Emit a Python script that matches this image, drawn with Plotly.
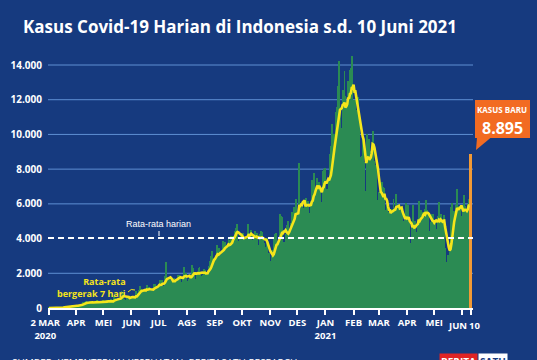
import pandas as pd
import plotly.graph_objects as go

# ---------------- DATA ----------------
START_DATE = "2020-03-02"

CASES_2020_03 = [2, 0, 0, 0, 2, 0, 2, 13, 8, 7, 0, 35, 27, 21, 17, 38, 55, 82, 60, 81,
                 64, 65, 107, 104, 103, 153, 109, 130, 129, 114]
CASES_2020_04 = [149, 113, 196, 106, 181, 218, 247, 218, 337, 219, 330, 399, 316, 282, 297,
                 380, 407, 325, 327, 185, 375, 283, 357, 436, 396, 275, 214, 415, 260, 347]
CASES_2020_05 = [433, 292, 349, 395, 484, 367, 338, 336, 533, 387, 233, 484, 689, 568, 490,
                 529, 489, 496, 486, 693, 973, 634, 949, 526, 479, 415, 686, 687, 678, 557, 700]
CASES_2020_06 = [467, 609, 684, 585, 703, 993, 672, 847, 1043, 1241, 979, 1111, 1014, 857, 1017,
                 1106, 1031, 1331, 1041, 1226, 862, 954, 1051, 1113, 1178, 1385, 1385, 1198, 1082, 1293]
CASES_2020_07 = [1385, 1624, 1301, 1447, 1607, 1209, 1268, 1853, 2657, 1611, 1671, 1681, 1282, 1591,
                 1522, 1574, 1462, 1752, 1639, 1693, 1655, 1882, 1906, 1761, 1868, 1492, 1525, 1748,
                 2381, 1904, 2040]
CASES_2020_08 = [1560, 1519, 1679, 1922, 1815, 1882, 2473, 2277, 1893, 1687, 1693, 1942, 2098, 2307,
                 2345, 2081, 1821, 1673, 1902, 2266, 2197, 2037, 2079, 1877, 2447, 2306, 2719, 3003,
                 3308, 2858, 2743]
CASES_2020_09 = [2775, 3075, 3622, 3269, 3128, 3444, 2880, 3046, 3307, 3861, 3737, 3806, 3636, 3141,
                 3507, 3963, 3635, 3891, 4168, 3989, 4176, 4071, 4465, 4634, 4823, 4494, 3874, 3509,
                 4002, 4284]
CASES_2020_10 = [4174, 4317, 4007, 3992, 3622, 4056, 4538, 4850, 4094, 4294, 4497, 3267, 3906, 4127,
                 4411, 4301, 4301, 4105, 3373, 3602, 4267, 4432, 4369, 4070, 3732, 3222, 3520, 4029,
                 3565, 2897, 3143]
CASES_2020_11 = [2696, 2618, 2973, 3356, 4065, 4262, 4301, 3880, 2853, 3779, 3770, 5444, 5272, 5222,
                 3807, 3535, 3807, 4265, 4798, 4792, 4998, 4360, 4442, 4892, 5534, 5417, 5828, 5418,
                 6267, 4617]
CASES_2020_12 = [5092, 5533, 8369, 5803, 6027, 6089, 5754, 5292, 6058, 6033, 6310, 5938, 6189, 5489,
                 5489, 6120, 7354, 6725, 7751, 6848, 6848, 6347, 7514, 6664, 7259, 6982, 6093, 5854,
                 7903, 8002, 8074]
CASES_2021_01 = [8072, 6234, 6877, 6753, 7445, 8854, 9321, 10617, 10046, 9640, 8692, 10047, 11278,
                 11557, 12818, 14224, 11287, 9086, 10365, 12568, 11703, 13632, 12191, 11788, 9994,
                 13094, 11948, 13695, 13802, 14518, 12001]
CASES_2021_02 = [10994, 10347, 11984, 11434, 10614, 12156, 10827, 8242, 8700, 8776, 9869, 9463, 8435,
                 6765, 6462, 10029, 9687, 9750, 9039, 8956, 8497, 10180, 9775, 8493, 7533, 8232,
                 6208, 5560]
CASES_2021_03 = [6680, 5712, 6808, 7264, 6971, 5767, 6894, 4714, 5633, 5926, 5144, 5554, 5607, 5714,
                 5396, 5589, 6279, 5396, 5720, 6585, 5854, 5402, 5981, 5227, 5731, 5701, 4952, 5008,
                 4207, 5063, 6060]
CASES_2021_04 = [5096, 5937, 4904, 3731, 3732, 4582, 4549, 5928, 4973, 5041, 4396, 3954, 5106, 6177,
                 5480, 5656, 5510, 4811, 4952, 5549, 5720, 6243, 5656, 5436, 4420, 4123, 4952, 5241,
                 5444, 5444]
CASES_2021_05 = [4809, 5048, 4369, 4538, 5285, 6093, 4958, 5404, 4616, 3922, 4891, 5385, 3448, 2633,
                 2385, 3080, 2662, 3680, 5797, 5746, 6043, 5296, 5591, 4488, 5952, 6868, 5853, 5862,
                 5696, 5860, 5280]
CASES_2021_06 = [4824, 5642, 6486, 5862, 5594, 5434, 5993, 6294, 5725, 8895]

Y_TICKS = [0, 2000, 4000, 6000, 8000, 10000, 12000, 14000]
Y_TICK_LABELS = ["0", "2.000", "4.000", "6.000", "8.000", "10.000", "12.000", "14.000"]

NB = "\u00a0"
X_TICKS = ["2020-03-02", "2020-04-01", "2020-05-01", "2020-06-01", "2020-07-01", "2020-08-01",
           "2020-09-01", "2020-10-01", "2020-11-01", "2020-12-01", "2021-01-01", "2021-02-01",
           "2021-03-01", "2021-04-01", "2021-05-01", "2021-06-01", "2021-06-10"]
X_TICK_LABELS = ["2 MAR" + NB * 3 + "<br>2020" + NB * 3, "APR", "MEI", "JUN", "JUL", "AGS", "SEP",
                 "OKT", "NOV", "DES", "JAN<br>2021", "FEB", "MAR", "APR", "MEI", "JUN", "10"]
# the last two labels sit very close together; they are drawn as nudged annotations
NUDGED_LABELS = {"2021-06-01": -5, "2021-06-10": 4}

TITLE = "Kasus Covid-19 Harian di Indonesia s.d. 10 Juni 2021"
AVG_LABEL = "Rata-rata harian"
MA_LABEL = "Rata-rata<br>bergerak 7 hari"
CALLOUT_LABEL = "KASUS BARU"
CALLOUT_VALUE = "8.895"
SOURCE = "SUMBER: KEMENTERIAN KESEHATAN, BERITASATU RESEARCH"

# ---------------- DERIVED ----------------
daily = (CASES_2020_03 + CASES_2020_04 + CASES_2020_05 + CASES_2020_06 + CASES_2020_07 +
         CASES_2020_08 + CASES_2020_09 + CASES_2020_10 + CASES_2020_11 + CASES_2020_12 +
         CASES_2021_01 + CASES_2021_02 + CASES_2021_03 + CASES_2021_04 + CASES_2021_05 +
         CASES_2021_06)
dates = pd.date_range(START_DATE, periods=len(daily), freq="D")
ma7 = pd.Series(daily).rolling(7, min_periods=1).mean()
avg_daily = sum(daily) / len(daily)

# ---------------- STYLE ----------------
W, H = 537, 360
L, R, T, B = 48, 473, 50, 308
BG = "#163a7f"
GREEN = "#2b8b53"
YELLOW = "#f5e51b"
ORANGE_BAR = "#f29a35"
ORANGE_BOX = "#f26b22"
GRID = "#5f8fd3"
WHITE = "#ffffff"
FONT = "Open Sans"
TICK_FONT = dict(family=FONT, size=9.5, color=WHITE, weight="bold")


def px(xp):
    return (xp - L) / (R - L)


def py(yp):
    return (B - yp) / (B - T)


fig = go.Figure()

fig.add_trace(go.Bar(x=dates[:-1], y=daily[:-1], marker=dict(color=GREEN, line=dict(width=0))))
fig.add_trace(go.Bar(x=dates[-1:], y=daily[-1:], width=[86400000 * 3],
                     marker=dict(color=ORANGE_BAR, line=dict(width=0))))
fig.add_trace(go.Scatter(x=dates[:-1], y=ma7[:-1], mode="lines",
                         line=dict(color=YELLOW, width=2.6)))

shapes = []
for v in Y_TICKS:
    if v == 0 or abs(v - avg_daily) < 500:
        continue
    shapes.append(dict(type="line", xref="paper", yref="y", x0=0, x1=1, y0=v, y1=v,
                       line=dict(color=GRID, width=1), layer="below"))
shapes.append(dict(type="line", xref="paper", yref="y", x0=0, x1=1, y0=avg_daily, y1=avg_daily,
                   line=dict(color=WHITE, width=2, dash="6px,4px"), layer="above"))
shapes.append(dict(type="line", xref="paper", yref="paper", x0=px(159), x1=px(159),
                   y0=py(231), y1=py(236), line=dict(color=WHITE, width=1)))
shapes.append(dict(type="path", xref="paper", yref="paper",
                   path=f"M{px(128)},{py(292)} Q{px(131)},{py(288)} {px(135)},{py(290)}",
                   line=dict(color=YELLOW, width=1)))
# callout box and pointer
shapes.append(dict(type="rect", xref="paper", yref="paper", x0=px(475), x1=px(530),
                   y0=py(138), y1=py(100), fillcolor=ORANGE_BOX, line=dict(width=0), layer="above"))
shapes.append(dict(type="path", xref="paper", yref="paper",
                   path=f"M{px(477)},{py(137.5)} L{px(491)},{py(137.5)} L{px(476)},{py(150)} Z",
                   fillcolor=ORANGE_BOX, line=dict(width=0), layer="above"))

tick_text = [("" if v in NUDGED_LABELS else t) for v, t in zip(X_TICKS, X_TICK_LABELS)]

annotations = [
    dict(xref="paper", yref="paper", x=px(158), y=py(224), text=AVG_LABEL, showarrow=False,
         font=dict(family="Liberation Sans", size=9, color=WHITE), xanchor="center", yanchor="middle"),
    dict(xref="paper", yref="paper", x=px(127), y=py(287), text=MA_LABEL, showarrow=False,
         align="right", font=dict(family=FONT, size=9, color=YELLOW, weight="bold"),
         xanchor="right", yanchor="middle", borderpad=0),
    dict(xref="paper", yref="paper", x=px(502.5), y=py(115.5), showarrow=False, text=CALLOUT_LABEL,
         font=dict(family=FONT, size=8, color=WHITE, weight="bold"),
         xanchor="center", yanchor="bottom", borderpad=0),
    dict(xref="paper", yref="paper", x=px(502.5), y=py(115.5), showarrow=False, text=CALLOUT_VALUE,
         font=dict(family=FONT, size=16, color=WHITE, weight="bold"),
         xanchor="center", yanchor="top", borderpad=0),
    dict(xref="paper", yref="paper", x=px(10), y=py(354), text=SOURCE, showarrow=False,
         font=dict(family=FONT, size=10, color=WHITE), xanchor="left", yanchor="top"),
    dict(xref="paper", yref="paper", x=px(478), y=py(353), text="<b>BERITA</b>", showarrow=False,
         font=dict(family=FONT, size=10, color=WHITE), bgcolor="#e02424", xanchor="right",
         yanchor="top", borderpad=1),
    dict(xref="paper", yref="paper", x=px(478), y=py(353), text="<b>SATU</b>", showarrow=False,
         font=dict(family=FONT, size=10, color="#163a7f"), bgcolor=WHITE, xanchor="left",
         yanchor="top", borderpad=1),
]
for v, t in zip(X_TICKS, X_TICK_LABELS):
    if v in NUDGED_LABELS:
        annotations.append(dict(xref="x", yref="paper", x=v, y=py(318), text=t, showarrow=False,
                                xshift=NUDGED_LABELS[v], font=TICK_FONT, xanchor="center",
                                yanchor="top", borderpad=0))

fig.update_layout(
    width=W, height=H,
    margin=dict(l=L, r=W - R, t=T, b=H - B, pad=0),
    paper_bgcolor=BG, plot_bgcolor=BG,
    barmode="overlay", bargap=0,
    showlegend=False,
    title=dict(text=TITLE, x=23 / W, xanchor="left", xref="container", y=1 - 27 / H,
               yanchor="middle", yref="container",
               font=dict(family=FONT, size=17, color=WHITE, weight="bold")),
    xaxis=dict(type="date", range=["2020-02-29 21:30", "2021-06-12 18:00"],
               tickmode="array", tickvals=X_TICKS, ticktext=tick_text, tickangle=0,
               ticks="outside", ticklen=5, tickwidth=1.5, tickcolor=WHITE,
               showline=True, linecolor=WHITE, linewidth=2, showgrid=False, zeroline=False,
               tickfont=TICK_FONT),
    yaxis=dict(range=[0, 14864], tickmode="array", tickvals=Y_TICKS, ticktext=Y_TICK_LABELS,
               showgrid=False, zeroline=False, showline=False, ticks="",
               ticklabelstandoff=5,
               tickfont=dict(family=FONT, size=10, color=WHITE, weight="bold")),
    shapes=shapes,
    annotations=annotations,
)

fig.write_html("out.html", config={"displayModeBar": False},
               post_script="document.body.style.margin='0px';"
                           "document.body.style.background='" + BG + "';")
